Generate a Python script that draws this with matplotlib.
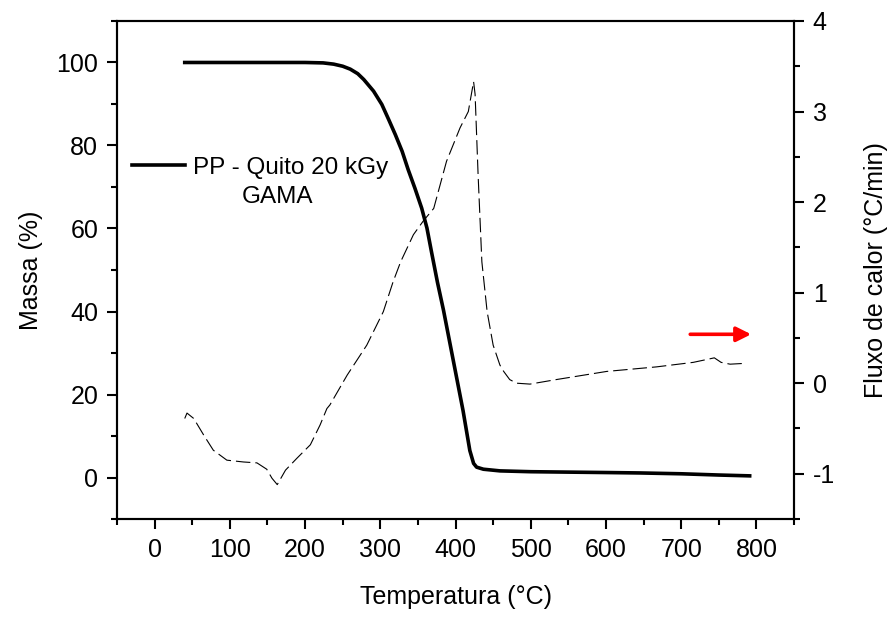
import matplotlib
matplotlib.use("Agg")
import matplotlib.pyplot as plt
from matplotlib.ticker import MultipleLocator

plt.rcParams["font.family"] = ["Liberation Sans", "DejaVu Sans"]
plt.rcParams["axes.unicode_minus"] = False

# ------------------------------------------------------------
# TGA curve (mass, left axis)
# ------------------------------------------------------------
temp_mass = [40, 100, 150, 200, 224, 238, 250, 260, 270, 278, 291, 302, 311,
             320, 329, 337, 346, 355, 362, 368, 376, 384, 397, 410, 419, 424,
             428, 437, 459, 500, 600, 645, 700, 750, 791]
mass = [100, 100, 100, 100, 99.9, 99.6, 99.1, 98.4, 97.3, 95.9, 93.1, 89.9, 86.3,
        82.6, 78.6, 74.2, 69.7, 64.9, 60.1, 54.4, 47.0, 40.3, 28.2, 16.1, 6.5, 3.4,
        2.5, 2.0, 1.6, 1.4, 1.2, 1.1, 0.9, 0.6, 0.4]

# ------------------------------------------------------------
# Heat flow curve (dashed, right axis)
# ------------------------------------------------------------
temp_flux = [40, 43, 52, 65, 78, 96, 118, 136, 149, 156, 163, 174, 189, 207,
             220, 229, 233, 256, 282, 304, 317, 327, 344, 357, 371, 388, 406,
             417, 424, 426, 430, 435, 442, 450, 459, 464, 472, 481, 499, 534,
             601, 667, 716, 733, 744, 753, 765, 787]
flux = [-0.39, -0.33, -0.39, -0.57, -0.74, -0.85, -0.87, -0.88, -0.95, -1.05,
        -1.12, -0.96, -0.83, -0.68, -0.46, -0.28, -0.24, 0.09, 0.42, 0.79,
        1.12, 1.34, 1.64, 1.79, 1.93, 2.45, 2.82, 3.0, 3.33, 3.19, 2.3, 1.34,
        0.79, 0.42, 0.2, 0.13, 0.04, 0.0, -0.01, 0.04, 0.13, 0.18, 0.23, 0.26,
        0.28, 0.23, 0.21, 0.22]

label_series = "PP - Quito 20 kGy"
label_extra = "GAMA"
arrow_start, arrow_end, arrow_level = 712, 793, 0.54

fig = plt.figure(figsize=(8.94, 6.17), dpi=100)
ax = fig.add_axes([0.1309, 0.1588, 0.7573, 0.8072])
ax2 = ax.twinx()

line_mass, = ax.plot(temp_mass, mass, color="black", lw=2.6,
                     solid_joinstyle="round", label=label_series)
ax2.plot(temp_flux, flux, color="black", lw=0.8, dashes=(13, 4.5))

# red arrow pointing to the right axis
ax2.annotate("", xy=(arrow_end, arrow_level), xytext=(arrow_start, arrow_level),
             arrowprops=dict(arrowstyle="-|>", color="red", lw=2.6,
                             mutation_scale=22, shrinkA=0, shrinkB=0))

ax.set_xlim(-50, 850)
ax.set_ylim(-10, 110)
ax2.set_ylim(-1.5, 4)

ax.xaxis.set_major_locator(MultipleLocator(100))
ax.xaxis.set_minor_locator(MultipleLocator(50))
ax.yaxis.set_major_locator(MultipleLocator(20))
ax.yaxis.set_minor_locator(MultipleLocator(10))
ax2.yaxis.set_major_locator(MultipleLocator(1))
ax2.yaxis.set_minor_locator(MultipleLocator(0.5))

for a in (ax, ax2):
    for s in a.spines.values():
        s.set_linewidth(1.5)
    a.tick_params(which="major", direction="out", length=7.5, width=1.5,
                  labelsize=18, pad=6)
    a.tick_params(which="minor", direction="out", length=4.5, width=1.5)
ax.tick_params(axis="x", which="both", top=False)

ax.set_xlabel("Temperatura (°C)", fontsize=18, labelpad=17)
ax.set_ylabel("Massa (%)", fontsize=18, labelpad=10)
ax2.set_ylabel("Fluxo de calor (°C/min)", fontsize=18, labelpad=21)

leg = ax.legend(handles=[line_mass], loc="upper left",
                bbox_to_anchor=(0.022, 0.727), frameon=False, fontsize=17.5,
                handlelength=2.2, handletextpad=0.3, borderpad=0,
                borderaxespad=0)
ax.text(0.2374, 0.634, label_extra, transform=ax.transAxes, fontsize=17.5,
        ha="center", va="baseline")

fig.savefig("out.png", dpi=100)
